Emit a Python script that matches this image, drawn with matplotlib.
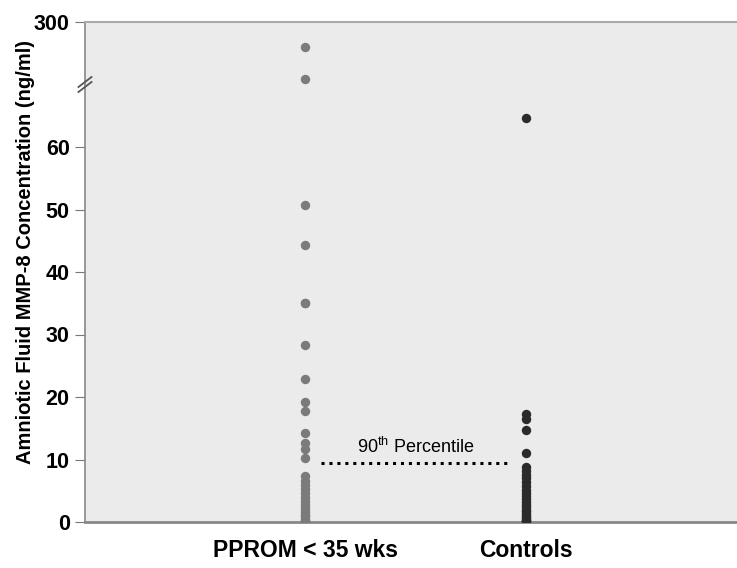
import numpy as np
import matplotlib
matplotlib.use("Agg")
import matplotlib.pyplot as plt
from matplotlib.transforms import blended_transform_factory

plt.rcParams['font.family'] = ['Liberation Sans', 'DejaVu Sans']

categories = ["PPROM < 35 wks", "Controls"]
pprom_values = [208, 91, 50.8, 44.3, 35.1, 35.0, 28.3, 22.9, 19.2, 17.7, 14.3, 12.7,
                11.7, 10.2, 7.4, 6.6, 6.0, 5.3, 4.6, 4.0, 3.4, 2.9, 2.4, 2.0, 1.6,
                1.2, 0.9, 0.6, 0.4, 0.2, 0.1, 0.05]
control_values = [64.6, 17.3, 16.5, 14.8, 11.1, 8.8, 8.2, 7.6, 7.0, 6.4, 5.8, 5.2,
                  4.7, 4.2, 3.7, 3.2, 2.8, 2.4, 2.0, 1.7, 1.4, 1.1, 0.8, 0.6, 0.4,
                  0.25, 0.1, 0.0]
percentile_90 = 9.4
y_ticks = [0, 10, 20, 30, 40, 50, 60, 300]

BREAK = 70.0
K = 10.0 / 230.0


def fwd(v):
    v = np.asarray(v, dtype=float)
    return np.where(v <= BREAK, v, BREAK + (v - BREAK) * K)


def inv(u):
    u = np.asarray(u, dtype=float)
    return np.where(u <= BREAK, u, BREAK + (u - BREAK) / K)


fig = plt.figure(figsize=(7.37, 5.68), dpi=100)
ax = fig.add_axes([85 / 737, 46 / 568, 652 / 737, 500 / 568])
ax.set_facecolor('#ebebeb')
ax.set_yscale('function', functions=(fwd, inv))
ax.set_ylim(0, 300)
ax.set_xlim(0, 2.96)

ax.scatter(np.full(len(pprom_values), 1.0), pprom_values, s=46, color='#7b7b7b',
           zorder=3, linewidths=0)
ax.scatter(np.full(len(control_values), 2.0), control_values, s=46, color='#2b2b2b',
           zorder=3, linewidths=0)

ax.plot([1.073, 1.918], [percentile_90, percentile_90], linestyle=(0, (1, 1.6)),
        color='black', linewidth=2.2, zorder=2)
ax.text(1.5, 12.0, r"90$^{\mathregular{th}}$ Percentile", ha='center', va='center',
        fontsize=13)

ax.set_xticks([1, 2])
ax.set_xticklabels(categories, fontsize=16.5, fontweight='bold')
ax.tick_params(axis='x', length=0, pad=12)
ax.set_yticks(y_ticks)
ax.set_yticklabels([str(t) for t in y_ticks], fontsize=15.5, fontweight='bold')
ax.tick_params(axis='y', length=7, color='#777777', pad=4)
ax.yaxis.set_minor_locator(matplotlib.ticker.NullLocator())

ax.spines['right'].set_visible(False)
ax.spines['left'].set_color('#888888')
ax.spines['left'].set_linewidth(1.2)
ax.spines['bottom'].set_color('#888888')
ax.spines['bottom'].set_linewidth(2)
ax.spines['top'].set_color('#aaaaaa')
ax.spines['top'].set_linewidth(1.5)

fig.text(26 / 737, 1 - 252 / 568, "Amniotic Fluid MMP-8 Concentration (ng/ml)",
         rotation=90, ha='center', va='center', fontsize=14.5, fontweight='bold')

# axis break marks
tr = blended_transform_factory(ax.transAxes, ax.transData)
for off in (-0.4, 0.4):
    ax.plot([-0.010, 0.010], [inv(BREAK + off - 0.8), inv(BREAK + off + 0.8)],
            transform=tr, color='#555555', linewidth=1.3, clip_on=False, zorder=5)

fig.savefig("out.png", dpi=100)
